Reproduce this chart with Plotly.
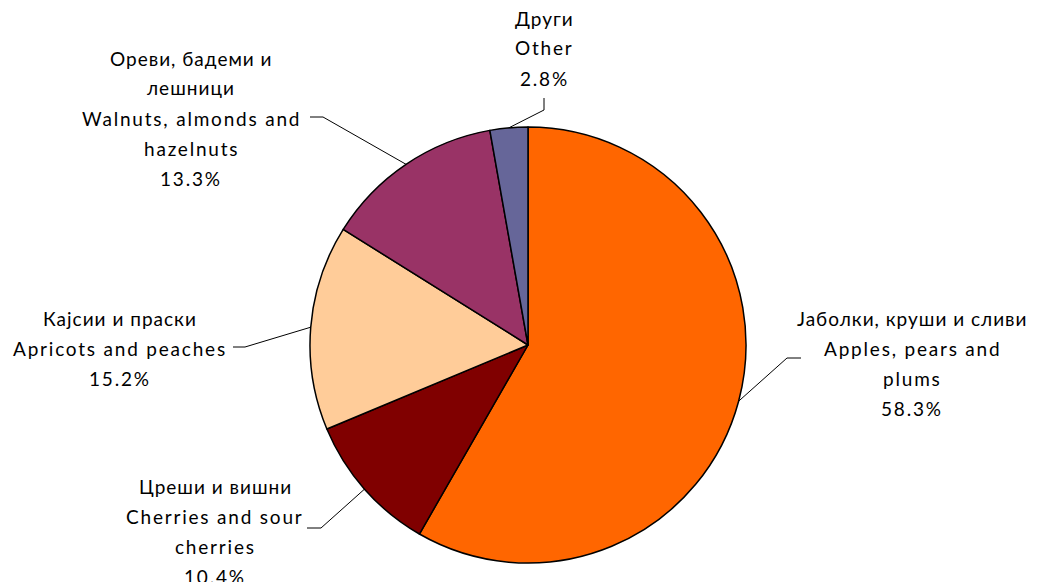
import math
import re
import plotly.graph_objects as go

# ---- data ----
labels_mk = ["Јаболки, круши и сливи", "Цреши и вишни", "Кајсии и праски",
             "Ореви, бадеми и лешници", "Други"]
labels_en = ["Apples, pears and plums", "Cherries and sour cherries",
             "Apricots and peaches", "Walnuts, almonds and hazelnuts", "Other"]
values = [58.3, 10.4, 15.2, 13.3, 2.8]
colors = ["#FF6600", "#800000", "#FFCC99", "#993366", "#666699"]

# label text lines (as wrapped in the reference)
label_lines = [
    ["Јаболки, круши и сливи", "Apples, pears and", "plums", "58.3%"],
    ["Цреши и вишни", "Cherries and sour", "cherries", "10.4%"],
    ["Кајсии и праски", "Apricots and peaches", "15.2%"],
    ["Ореви, бадеми и", "лешници", "Walnuts, almonds and", "hazelnuts", "13.3%"],
    ["Други", "Other", "2.8%"],
]

# ---- layout (pixels) ----
W, H = 1038, 582
OFF = 8  # page body margin
CX, CY, R = 528, 345, 218
# label block: center x, first-line y
label_pos = [(912, 318), (215, 486), (120, 318), (191, 58), (544, 18)]
LINE_H = 30
# leader line: elbow point and end point
leader = [((787, 358), (801, 358)),
          ((321, 528), (307, 528)),
          ((245, 347), (233, 347)),
          ((323, 117), (310, 117)),
          ((544, 110), (544, 98))]


def px(x, y):
    return (x - OFF) / W, 1 - (y - OFF) / H


d0 = px(CX - R, CY + R)
d1 = px(CX + R, CY - R)
fig = go.Figure(go.Pie(
    values=values,
    labels=labels_en,
    marker=dict(colors=colors, line=dict(color="black", width=1.5)),
    sort=False, direction="clockwise", rotation=0,
    textinfo="none", hoverinfo="label+percent",
    domain=dict(x=[d0[0], d1[0]], y=[d0[1], d1[1]]),
    showlegend=False,
))

annotations = []
shapes = []
total = sum(values)
cum = 0
for i, v in enumerate(values):
    mid = (cum + v / 2) / total
    cum += v
    ang = 2 * math.pi * mid
    ex = CX + R * math.sin(ang)
    ey = CY - R * math.cos(ang)
    (bx, by), (tx, ty) = leader[i]
    p0, p1, p2 = px(ex, ey), px(bx, by), px(tx, ty)
    shapes.append(dict(type="path", xref="paper", yref="paper",
                       path=f"M {p0[0]},{p0[1]} L {p1[0]},{p1[1]} L {p2[0]},{p2[1]}",
                       line=dict(color="black", width=1)))
    lx, ly = label_pos[i]
    for j, t in enumerate(label_lines[i]):
        x, y = px(lx, ly + j * LINE_H)
        ls = 1.0 if re.search("[\u0400-\u04FF]", t) else 1.8
        annotations.append(dict(text=f'<span style="letter-spacing:{ls}px">{t}</span>',
                                x=x, y=y, xref="paper", yref="paper",
                                xanchor="center", yanchor="middle", showarrow=False,
                                font=dict(family="Lato", size=19, color="black")))

fig.update_layout(
    width=W, height=H,
    margin=dict(l=0, r=0, t=0, b=0),
    paper_bgcolor="white", plot_bgcolor="white",
    annotations=annotations, shapes=shapes,
)
fig.write_html("out.html")
